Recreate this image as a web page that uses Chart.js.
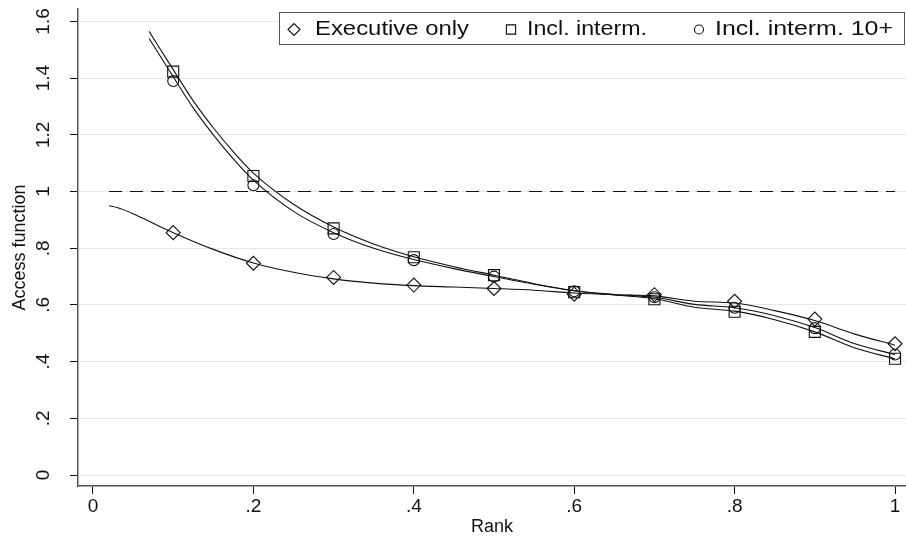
<!DOCTYPE html>
<html>
<head>
<meta charset="utf-8">
<script src="https://cdn.jsdelivr.net/npm/chart.js@4.4.1/dist/chart.umd.min.js"></script>
<style>
  body { margin: 0; background: #fff; }
  #wrap { width: 906px; height: 540px; }
</style>
</head>
<body>
<div id="wrap"><canvas id="myChart" width="906" height="540"></canvas></div>
<script>
// marker positions (rank)
const markerX = [0.1, 0.2, 0.3, 0.4, 0.5, 0.6, 0.7, 0.8, 0.9, 1.0];
const execPts = [0.855, 0.747, 0.697, 0.670, 0.658, 0.638, 0.636, 0.613, 0.550, 0.463];
const intermPts = [1.423, 1.055, 0.870, 0.768, 0.705, 0.645, 0.620, 0.576, 0.505, 0.410];
const interm10Pts = [1.390, 1.022, 0.850, 0.758, 0.700, 0.648, 0.627, 0.590, 0.518, 0.425];

// smoothed lines
const execLineX = [0.02, 0.03, 0.05, 0.075, 0.1, 0.15, 0.2, 0.25, 0.3, 0.35, 0.4, 0.45, 0.5, 0.55, 0.6, 0.65, 0.7, 0.75, 0.8, 0.85, 0.9, 0.95, 1.0];
const execLine = [0.950, 0.944, 0.922, 0.888, 0.855, 0.796, 0.748, 0.715, 0.692, 0.677, 0.668, 0.663, 0.658, 0.652, 0.642, 0.636, 0.632, 0.613, 0.607, 0.580, 0.545, 0.497, 0.458];

const upLineX = [0.07, 0.1, 0.125, 0.15, 0.175, 0.2, 0.25, 0.3, 0.35, 0.4, 0.45, 0.5, 0.55, 0.6, 0.65, 0.7, 0.75, 0.8, 0.85, 0.9, 0.95, 1.0];
const intermLine = [1.565, 1.430, 1.320, 1.225, 1.140, 1.065, 0.955, 0.875, 0.815, 0.770, 0.735, 0.705, 0.675, 0.650, 0.635, 0.622, 0.592, 0.578, 0.548, 0.505, 0.448, 0.410];
const interm10Line = [1.540, 1.405, 1.295, 1.200, 1.115, 1.040, 0.930, 0.855, 0.800, 0.760, 0.728, 0.700, 0.673, 0.650, 0.637, 0.627, 0.602, 0.590, 0.562, 0.520, 0.463, 0.425];

const refLineX = [0.02, 1.0];
const refLine = [1, 1];

const xTicks = [0, 0.2, 0.4, 0.6, 0.8, 1];
const xTickLabels = ['0', '.2', '.4', '.6', '.8', '1'];
const yTicks = [0, 0.2, 0.4, 0.6, 0.8, 1, 1.2, 1.4, 1.6];
const yTickLabels = ['0', '.2', '.4', '.6', '.8', '1', '1.2', '1.4', '1.6'];

const seriesNames = ['Executive only', 'Incl. interm.', 'Incl. interm. 10+'];

const FONT = '"Liberation Sans", Arial, Helvetica, sans-serif';
const INK = '#111';

function pts(xs, ys) {
  return xs.map((x, i) => ({ x: x, y: ys[i] }));
}

function lineSet(data, dash) {
  return {
    data: data,
    borderColor: INK,
    borderWidth: 1.1,
    borderDash: dash || [],
    pointRadius: 0,
    tension: 0.4,
    cubicInterpolationMode: 'monotone',
    fill: false
  };
}

function markSet(data, style, r) {
  return {
    data: data,
    showLine: false,
    pointStyle: style,
    pointRadius: r,
    pointBorderColor: INK,
    pointBackgroundColor: 'rgba(0,0,0,0)',
    pointBorderWidth: 1.1,
    clip: false
  };
}

// draws text stretched to a given width
function stretchText(ctx, txt, x, y, w) {
  const m = ctx.measureText(txt).width;
  ctx.save();
  ctx.translate(x, y);
  ctx.scale(w / m, 1);
  ctx.fillText(txt, 0, 0);
  ctx.restore();
}

// tick labels + legend box
const extras = {
  id: 'extras',
  afterDraw(chart) {
    const ctx = chart.ctx;
    const xs = chart.scales.x;
    const ys = chart.scales.y;
    ctx.save();
    ctx.fillStyle = INK;
    ctx.font = '19px ' + FONT;
    ctx.textAlign = 'center';
    ctx.textBaseline = 'middle';
    yTicks.forEach((v, i) => {
      const py = ys.getPixelForValue(v);
      ctx.save();
      ctx.translate(44, py);
      ctx.rotate(-Math.PI / 2);
      ctx.fillText(yTickLabels[i], 0, 0);
      ctx.restore();
    });
    xTicks.forEach((v, i) => {
      ctx.fillText(xTickLabels[i], xs.getPixelForValue(v), xs.top + 21);
    });

    // legend
    const bx = 279, by = 12, bw = 626, bh = 33;
    ctx.fillStyle = '#fff';
    ctx.fillRect(bx, by, bw, bh);
    ctx.strokeStyle = '#555';
    ctx.lineWidth = 1;
    ctx.strokeRect(bx + 0.5, by + 0.5, bw - 1, bh - 1);

    const cy = by + bh / 2 + 1;
    const items = [
      { style: 'rectRot', r: 6, mx: 294, tx: 315, tw: 154 },
      { style: 'rect', r: 6.5, mx: 511, tx: 527, tw: 120 },
      { style: 'circle', r: 4.5, mx: 699, tx: 715, tw: 178 }
    ];
    ctx.font = '21px ' + FONT;
    ctx.textAlign = 'left';
    ctx.textBaseline = 'middle';
    items.forEach((it, i) => {
      ctx.strokeStyle = INK;
      ctx.lineWidth = 1.1;
      ctx.fillStyle = 'rgba(0,0,0,0)';
      Chart.helpers.drawPoint(ctx, { pointStyle: it.style, radius: it.r, rotation: 0, borderWidth: 1.1 }, it.mx, cy);
      ctx.fillStyle = INK;
      stretchText(ctx, seriesNames[i], it.tx, cy, it.tw);
    });
    ctx.restore();
  }
};

const ctx = document.getElementById('myChart').getContext('2d');
const myChart = new Chart(ctx, {
  type: 'line',
  data: {
    datasets: [
      lineSet(pts(refLineX, refLine), [13, 8]),
      lineSet(pts(execLineX, execLine)),
      lineSet(pts(upLineX, intermLine)),
      lineSet(pts(upLineX, interm10Line)),
      markSet(pts(markerX, execPts), 'rectRot', 7),
      markSet(pts(markerX, intermPts), 'rect', 7.8),
      markSet(pts(markerX, interm10Pts), 'circle', 5.5)
    ]
  },
  options: {
    responsive: false,
    animation: false,
    layout: { autoPadding: false, padding: { top: 9, right: 0, left: 0, bottom: 0 } },
    plugins: {
      legend: { display: false },
      tooltip: { enabled: false }
    },
    scales: {
      x: {
        type: 'linear',
        min: -0.0187,
        max: 1.0137,
        afterBuildTicks: (s) => { s.ticks = xTicks.map(v => ({ value: v })); },
        afterFit: (s) => { s.height = 54; },
        grid: { drawOnChartArea: false, tickLength: 8, tickColor: INK, tickWidth: 1 },
        border: { display: true, color: '#555', width: 1.5 },
        ticks: { display: false },
        title: {
          display: true,
          text: 'Rank',
          color: INK,
          font: { family: FONT, size: 18 },
          padding: { top: 0, bottom: 2 }
        }
      },
      y: {
        type: 'linear',
        min: -0.0388,
        max: 1.644,
        afterBuildTicks: (s) => { s.ticks = yTicks.map(v => ({ value: v })); },
        afterFit: (s) => { s.width = 78; },
        grid: { color: '#e6e6e6', lineWidth: 1, tickLength: 8, tickColor: INK, tickWidth: 1 },
        border: { display: true, color: '#555', width: 1.5 },
        ticks: { display: false },
        title: {
          display: true,
          text: 'Access function',
          color: INK,
          font: { family: FONT, size: 18 },
          padding: { top: 9, bottom: 0 }
        }
      }
    }
  },
  plugins: [extras]
});
</script>
</body>
</html>
